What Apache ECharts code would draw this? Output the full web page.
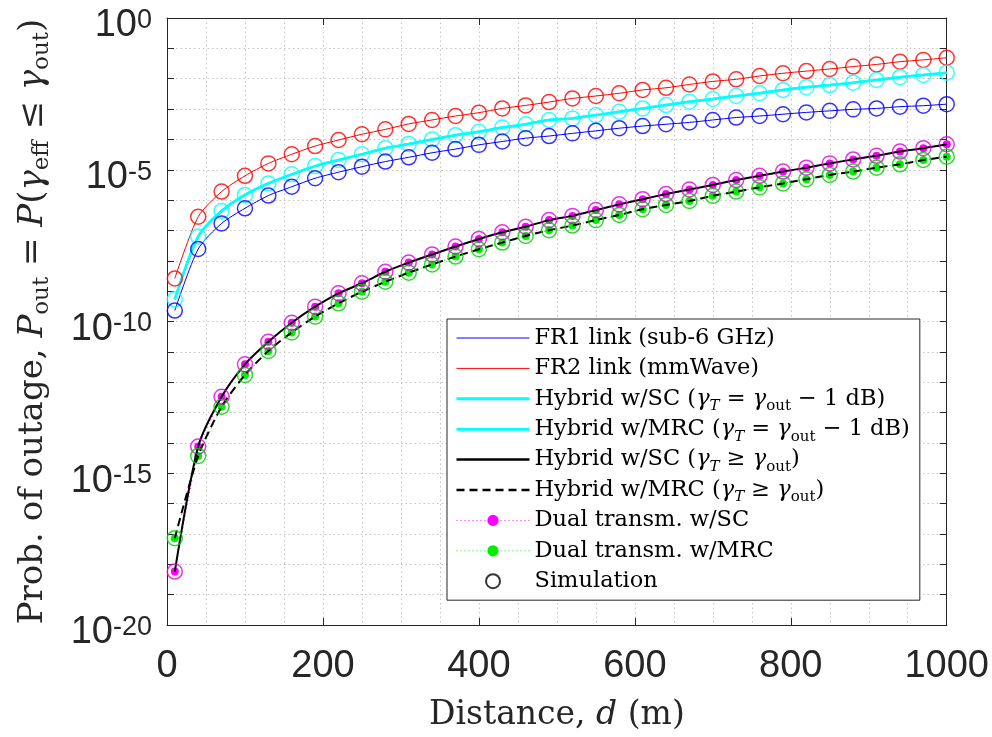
<!DOCTYPE html>
<html><head><meta charset="utf-8">
<script src="https://cdn.jsdelivr.net/npm/echarts@6/dist/echarts.min.js"></script>
<style>html,body{margin:0;padding:0;background:#fff}#c{width:992px;height:737px}</style>
</head><body><div id="c"></div>
<script>
// ---- data ----
const distance = [10,40,70,100,130,160,190,220,250,280,310,340,370,400,430,460,490,520,550,580,610,640,670,700,730,760,790,820,850,880,910,940,970,1000];
const fr1 = [2.29e-10,2.45e-8,1.70e-7,5.37e-7,1.41e-6,2.75e-6,5.25e-6,8.32e-6,1.26e-5,1.86e-5,2.57e-5,3.63e-5,4.79e-5,6.61e-5,8.51e-5,1.10e-4,1.29e-4,1.58e-4,1.91e-4,2.34e-4,2.75e-4,3.16e-4,3.63e-4,4.37e-4,5.25e-4,5.89e-4,6.76e-4,7.76e-4,8.71e-4,9.77e-4,1.05e-3,1.20e-3,1.29e-3,1.45e-3];
const fr2 = [2.63e-9,2.82e-7,1.91e-6,6.31e-6,1.62e-5,3.24e-5,6.03e-5,9.55e-5,1.48e-4,2.14e-4,3.24e-4,4.37e-4,5.89e-4,7.59e-4,1.05e-3,1.32e-3,1.70e-3,2.24e-3,2.69e-3,3.31e-3,4.27e-3,5.01e-3,6.46e-3,8.13e-3,9.55e-3,1.23e-2,1.51e-2,1.78e-2,2.09e-2,2.51e-2,2.95e-2,3.63e-2,4.17e-2,4.90e-2];
const hybrid1dB = [5.37e-10,6.31e-8,4.37e-7,1.48e-6,3.55e-6,7.08e-6,1.32e-5,2.09e-5,3.24e-5,5.13e-5,7.08e-5,1.00e-4,1.38e-4,1.78e-4,2.45e-4,3.16e-4,4.37e-4,4.90e-4,6.31e-4,8.13e-4,1.05e-3,1.35e-3,1.74e-3,2.14e-3,2.69e-3,3.31e-3,4.27e-3,5.25e-3,6.17e-3,7.41e-3,9.12e-3,1.12e-2,1.32e-2,1.58e-2];
const dualSC = [5.75e-19,7.59e-15,3.31e-13,3.89e-12,2.14e-11,9.12e-11,3.09e-10,8.51e-10,1.82e-9,4.37e-9,8.71e-9,1.62e-8,2.95e-8,5.25e-8,8.71e-8,1.32e-7,2.19e-7,3.02e-7,4.68e-7,7.24e-7,1.07e-6,1.58e-6,2.24e-6,3.16e-6,4.57e-6,6.31e-6,8.71e-6,1.17e-5,1.62e-5,2.19e-5,2.88e-5,3.98e-5,5.13e-5,6.92e-5];
const dualMRC = [7.24e-18,3.72e-15,1.55e-13,1.74e-12,1.07e-11,4.37e-11,1.45e-10,3.98e-10,9.55e-10,2.04e-9,4.07e-9,7.59e-9,1.38e-8,2.40e-8,3.98e-8,6.61e-8,1.02e-7,1.45e-7,2.19e-7,3.24e-7,5.01e-7,6.92e-7,9.33e-7,1.38e-6,1.91e-6,2.63e-6,3.55e-6,4.90e-6,6.76e-6,8.71e-6,1.17e-5,1.51e-5,2.09e-5,2.69e-5];
const hybridSC = dualSC;    // Hybrid w/SC (γT ≥ γout) coincides with dual SC
const hybridMRC = dualMRC;  // Hybrid w/MRC (γT ≥ γout) coincides with dual MRC
const xTickLabels = [0,200,400,600,800,1000];
const yTickExponents = [-20,-15,-10,-5,0];
const seriesNames = [
  'FR1 link (sub-6 GHz)',
  'FR2 link (mmWave)',
  'Hybrid w/SC (γT = γout − 1 dB)',
  'Hybrid w/MRC (γT = γout − 1 dB)',
  'Hybrid w/SC (γT ≥ γout)',
  'Hybrid w/MRC (γT ≥ γout)',
  'Dual transm. w/SC',
  'Dual transm. w/MRC',
  'Simulation'
];
const legendLabels = [
  '{t|FR1 link (sub-6 GHz)}',
  '{t|FR2 link (mmWave)}',
  '{t|Hybrid w/SC (}{g|γ}{si|T}{t| = }{g|γ}{so|out}{t| − 1 dB)}',
  '{t|Hybrid w/MRC (}{g|γ}{si|T}{t| = }{g|γ}{so|out}{t| − 1 dB)}',
  '{t|Hybrid w/SC (}{g|γ}{si|T}{t| ≥ }{g|γ}{so|out}{t|)}',
  '{t|Hybrid w/MRC (}{g|γ}{si|T}{t| ≥ }{g|γ}{so|out}{t|)}',
  '{t|Dual transm. w/SC}',
  '{t|Dual transm. w/MRC}',
  '{t|Simulation}'
];
const legendHasMarker = [false,false,false,false,false,false,true,true,true];
const legendLineWidth = [1,1,3,3,2.5,2.5,1,1,0];

// ---- chart ----
const pairs = arr => distance.map((d, i) => [d, arr[i]]);
const AX = '#262626';
const SERIF = 'DejaVu Serif';
const SANS = 'Liberation Sans';
const gridLine = { show: true, lineStyle: { color: '#c4c4c4', type: [1.5, 3], width: 1 } };
const LF = 22.5, LS = 15;

const lineSeries = (name, arr, color, width, type, extra) => Object.assign({
  name, type: 'line', data: pairs(arr), xAxisIndex: 0, yAxisIndex: 0,
  symbol: 'none', showSymbol: false, smooth: 0.25,
  lineStyle: { color, width, type }, itemStyle: { color },
  emphasis: { disabled: true }, silent: true, z: 3
}, extra || {});

const simSeries = (arr, color, z) => ({
  name: 'sim-' + color, type: 'scatter', data: pairs(arr),
  symbol: 'circle', symbolSize: 15,
  itemStyle: { color: 'rgba(0,0,0,0)', borderColor: color, borderWidth: 1.5 },
  emphasis: { disabled: true }, silent: true, z: z || 5
});

const chart = echarts.init(document.getElementById('c'), null, { renderer: 'canvas' });
chart.setOption({
  animation: false,
  backgroundColor: '#fff',
  grid: { left: 167, right: 45, top: 18, bottom: 112 },
  legend: {
    orient: 'vertical', left: 447, top: 319,
    padding: [4, 10, 4, 8],
    backgroundColor: '#fff', borderColor: AX, borderWidth: 1,
    itemWidth: 73, itemHeight: 14, itemGap: 0.4,
    data: seriesNames.map((n, i) => {
      const item = { name: n };
      if (!legendHasMarker[i]) item.itemStyle = { opacity: 0 };
      if (legendLineWidth[i] > 0) item.lineStyle = { width: legendLineWidth[i] };
      return item;
    }),
    formatter: name => legendLabels[seriesNames.indexOf(name)],
    textStyle: {
      fontFamily: SERIF, fontSize: LF, color: '#000', lineHeight: 30,
      rich: {
        t: { fontFamily: SERIF, fontSize: LF, color: '#000', lineHeight: 30 },
        g: { fontFamily: SERIF, fontStyle: 'italic', fontSize: LF, color: '#000', lineHeight: 30 },
        si: { fontFamily: SERIF, fontStyle: 'italic', fontSize: LS, color: '#000', lineHeight: 19, verticalAlign: 'bottom' },
        so: { fontFamily: SERIF, fontSize: LS, color: '#000', lineHeight: 19, verticalAlign: 'bottom' }
      }
    }
  },
  xAxis: [{
    type: 'value', min: 0, max: 1000, interval: 200, position: 'bottom',
    axisLine: { show: true, onZero: false, lineStyle: { color: AX, width: 1 } },
    axisTick: { show: true, inside: true, length: 7, lineStyle: { color: AX } },
    minorTick: { show: false, splitNumber: 4 },
    splitLine: gridLine,
    minorSplitLine: gridLine,
    axisLabel: {
      margin: 23, fontFamily: SANS, fontSize: 38, color: AX,
      formatter: v => xTickLabels.includes(v) ? String(v) : ''
    },
    name: '{t|Distance, }{i|d}{t| (m)}',
    nameLocation: 'middle', nameGap: 70,
    nameTextStyle: {
      rich: {
        t: { fontFamily: SERIF, fontSize: 33, color: AX, lineHeight: 40 },
        i: { fontFamily: SERIF, fontStyle: 'italic', fontSize: 33, color: AX, lineHeight: 40 }
      }
    }
  }, {
    type: 'value', min: 0, max: 1000, interval: 200, position: 'top',
    axisLine: { show: true, onZero: false, lineStyle: { color: AX, width: 1 } },
    axisTick: { show: true, inside: true, length: 7, lineStyle: { color: AX } },
    splitLine: { show: false }, axisLabel: { show: false }
  }],
  yAxis: [{
    type: 'log', logBase: 10, min: 1e-20, max: 1, interval: 1, position: 'left',
    axisLine: { show: true, onZero: false, lineStyle: { color: AX, width: 1 } },
    axisTick: { show: true, inside: true, length: 7, lineStyle: { color: AX } },
    splitLine: gridLine,
    minorTick: { show: false }, minorSplitLine: { show: false },
    axisLabel: {
      margin: 15, color: AX, padding: [16, 0, 0, 0],
      formatter: v => {
        const e = Math.round(Math.log10(v));
        return yTickExponents.includes(e) ? '{b|10}{s|' + (e === 0 ? '0' : '-' + Math.abs(e)) + '}' : '';
      },
      rich: {
        b: { fontFamily: SANS, fontSize: 38, color: AX, lineHeight: 38 },
        s: { fontFamily: SANS, fontSize: 27, color: AX, lineHeight: 27, verticalAlign: 'top' }
      }
    },
    name: '{t|Prob. of outage, }{i|P}{so|out}{t| = }{i|P}{t|(}{g|γ}{so|eff}{t| ≤ }{g|γ}{so|out}{t|)}',
    nameLocation: 'middle', nameRotate: 90, nameGap: 113,
    nameTextStyle: {
      rich: {
        t: { fontFamily: SERIF, fontSize: 34, color: AX, lineHeight: 42 },
        i: { fontFamily: SERIF, fontStyle: 'italic', fontSize: 34, color: AX, lineHeight: 42 },
        g: { fontFamily: SERIF, fontStyle: 'italic', fontSize: 34, color: AX, lineHeight: 42 },
        so: { fontFamily: SERIF, fontSize: 23, color: AX, lineHeight: 28, verticalAlign: 'bottom' }
      }
    }
  }, {
    type: 'log', logBase: 10, min: 1e-20, max: 1, interval: 1, position: 'right',
    axisLine: { show: true, onZero: false, lineStyle: { color: AX, width: 1 } },
    axisTick: { show: true, inside: true, length: 7, lineStyle: { color: AX } },
    splitLine: { show: false }, axisLabel: { show: false }
  }],
  series: [
    lineSeries(seriesNames[0], fr1, '#0000ff', 1, 'solid'),
    lineSeries(seriesNames[1], fr2, '#ff0000', 1, 'solid'),
    lineSeries(seriesNames[2], hybrid1dB, '#00ffff', 2.5, 'solid'),
    lineSeries(seriesNames[3], hybrid1dB, '#00ffff', 2.5, 'solid'),
    lineSeries(seriesNames[6], dualSC, '#ff00ff', 1, [1, 3], { symbol: 'circle', showSymbol: true, symbolSize: 8, smooth: false }),
    lineSeries(seriesNames[7], dualMRC, '#00ee00', 1, [1, 3], { symbol: 'circle', showSymbol: true, symbolSize: 8, smooth: false }),
    lineSeries(seriesNames[4], hybridSC, '#000000', 2, 'solid', { z: 4 }),
    lineSeries(seriesNames[5], hybridMRC, '#000000', 2, [8, 5], { z: 4 }),
    {
      name: seriesNames[8], type: 'scatter', data: [],
      symbol: 'circle', symbolSize: 14,
      itemStyle: { color: 'rgba(0,0,0,0)', borderColor: '#000', borderWidth: 1.5 }
    },
    simSeries(fr2, '#ff0000'),
    simSeries(hybrid1dB, '#00ffff'),
    simSeries(fr1, '#0000ff'),
    simSeries(dualSC, '#e000e0'),
    simSeries(dualMRC, '#00cc00')
  ]
});
</script>
</body></html>
